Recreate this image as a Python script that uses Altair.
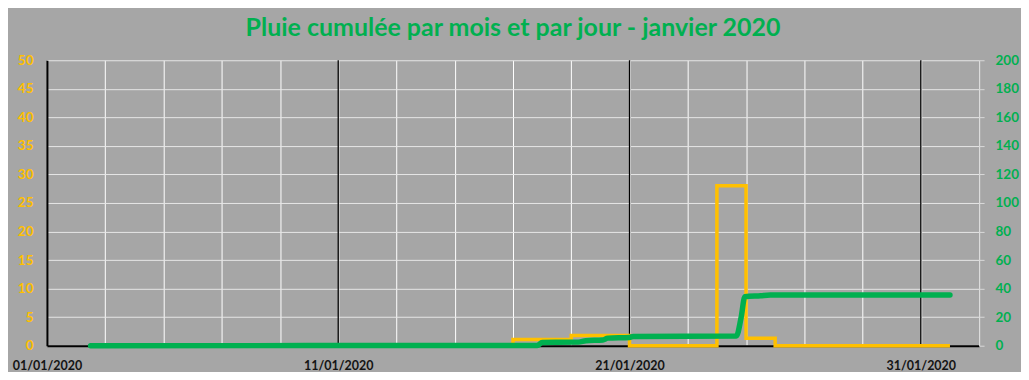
import altair as alt
import pandas as pd

TITLE = "Pluie cumulée par mois et par jour - janvier 2020"

# Pluie par jour (axe gauche, mm) - ligne en escalier
jour_dates = ["2020-01-02T12:00", "2020-01-17T00:00", "2020-01-19T00:00", "2020-01-21T00:00",
              "2020-01-24T00:00", "2020-01-25T00:00", "2020-01-26T00:00", "2020-02-01T00:00"]
jour_pluie = [0, 1.1, 1.8, 0, 28.0, 1.3, 0, 0]

# Pluie cumulée du mois (axe droit, mm)
cumul_dates = ["2020-01-02T12:00", "2020-01-17T20:00", "2020-01-18T00:00", "2020-01-19T06:00",
               "2020-01-19T12:00", "2020-01-20T02:00", "2020-01-20T06:00", "2020-01-21T00:00",
               "2020-01-21T03:00", "2020-01-24T16:00", "2020-01-24T20:00", "2020-01-24T23:00",
               "2020-01-25T12:00", "2020-01-25T20:00", "2020-02-01T00:00"]
cumul_pluie = [0, 0.2, 2.3, 2.5, 3.5, 4.0, 5.3, 5.8, 6.5, 6.8, 20.0, 34.3, 35.0, 35.5, 35.5]

# Graduations
left_ticks = [0, 5, 10, 15, 20, 25, 30, 35, 40, 45, 50]
right_ticks = [0, 20, 40, 60, 80, 100, 120, 140, 160, 180, 200]
x_labels = ["01/01/2020", "11/01/2020", "21/01/2020", "31/01/2020"]
major_dates = ["2020-01-11T00:00", "2020-01-21T00:00", "2020-01-31T00:00"]
minor_days = [(1, d) for d in range(1, 32, 2)] + [(2, 2)]

df_jour = pd.DataFrame({"t": jour_dates, "pluie_jour": jour_pluie})
df_cumul = pd.DataFrame({"t": cumul_dates, "pluie_cumul": cumul_pluie})
df_major = pd.DataFrame({"t": major_dates})

FONT = "Lato"
GREEN = "#00B050"
YELLOW = "#FFC000"
BG = "#A6A6A6"

xscale = alt.Scale(domain=[alt.DateTime(year=2020, month=1, date=1),
                           alt.DateTime(year=2020, month=2, date=2)])

label_list = "[" + ",".join("'" + s + "'" for s in x_labels) + "]"
xaxis = alt.Axis(
    values=[alt.DateTime(year=2020, month=m, date=d) for m, d in minor_days],
    format="%d/%m/%Y",
    labelExpr="indexof(" + label_list + ", datum.label) >= 0 ? datum.label : ''",
    grid=True, gridColor="white", gridWidth=1,
    ticks=False, domainColor="black", domainWidth=2,
    labelFont=FONT, labelFontWeight="bold", labelFontSize=12.5, labelColor="#141414",
    labelPadding=14, labelOverlap=False, labelFlush=False, title=None,
)

left_axis = alt.Axis(
    orient="left", values=left_ticks, grid=True, gridColor="#E6E6E6", gridWidth=1,
    domainColor="black", domainWidth=2, ticks=False,
    labelColor=YELLOW, labelFont=FONT, labelFontWeight="bold", labelFontSize=13.5,
    labelPadding=14, title=None,
)

right_axis = alt.Axis(
    orient="right", values=right_ticks, grid=False,
    domainColor="#D9D9D9", domainWidth=1, ticks=True, tickColor="#D9D9D9", tickSize=5,
    labelColor=GREEN, labelFont=FONT, labelFontWeight="bold", labelFontSize=13.5,
    labelPadding=11, title=None,
)

rules = alt.Chart(df_major).mark_rule(color="black", strokeWidth=1.3).encode(
    x=alt.X("t:T", scale=xscale, axis=xaxis)
)

jour = alt.Chart(df_jour).mark_line(
    interpolate="step-after", color=YELLOW, strokeWidth=3.5
).encode(
    x=alt.X("t:T", scale=xscale, axis=xaxis),
    y=alt.Y("pluie_jour:Q", scale=alt.Scale(domain=[0, 50]), axis=left_axis),
)

cumul = alt.Chart(df_cumul).mark_line(
    interpolate="monotone", color=GREEN, strokeWidth=5.5, strokeCap="round"
).encode(
    x=alt.X("t:T", scale=xscale, axis=xaxis),
    y=alt.Y("pluie_cumul:Q", scale=alt.Scale(domain=[0, 200]), axis=right_axis),
)

chart = alt.layer(rules, jour, cumul).resolve_scale(y="independent").properties(
    width=934, height=286,
    title=alt.TitleParams(TITLE, color=GREEN, font=FONT, fontSize=25, fontWeight="bold",
                          anchor="middle", frame="group", offset=12),
    autosize=alt.AutoSizeParams(type="none"),
    padding={"left": 39, "top": 52, "right": 42, "bottom": 26},
    background=BG,
).configure_view(stroke=None, fill=BG)

chart.save("out.html", embed_options={"renderer": "svg", "actions": False})
